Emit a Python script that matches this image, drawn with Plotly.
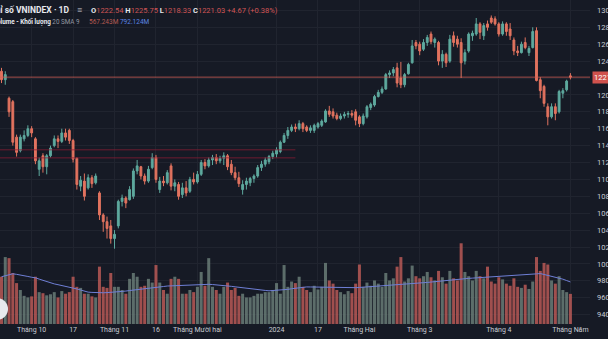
import plotly.graph_objects as go

# ---------------- data ----------------
opens = [1228,1218,1196,1192,1150,1134,1148,1152,1160,1148,1112,1128,1115,1128,1140,1148,1145,1155,1158,1146,
         1125,1092,1098,1090,1102,1096,1084,1058,1050,1045,1030,1045,1074,1078,1076,1080,1110,1115,1104,1098,
         1114,1126,1088,1098,1096,1116,1092,1094,1082,1090,1086,1100,1097,1106,1120,1116,1123,1126,1122,1125,
         1128,1118,1108,1102,1088,1094,1096,1101,1104,1114,1118,1121,1127,1130,1133,1144,1152,1158,1162,1160,
         1166,1162,1158,1158,1162,1164,1168,1181,1180,1176,1172,1175,1177,1178,1180,1174,1166,1174,1185,1188,
         1198,1203,1207,1224,1226,1232,1220,1212,1225,1238,1262,1260,1254,1262,1272,1262,1262,1240,1248,1240,
         1270,1266,1262,1240,1252,1270,1272,1284,1270,1284,1291,1290,1284,1272,1284,1278,1265,1252,1250,1262,
         1250,1256,1276,1218,1210,1186,1174,1186,1180,1202,1206,1222.54]
highs = [1232,1228,1198,1194,1153,1153,1158,1164,1163,1150,1126,1131,1130,1140,1152,1152,1160,1160,1160,1148,
         1126,1104,1107,1106,1105,1107,1086,1060,1056,1052,1040,1076,1082,1080,1092,1113,1123,1116,1107,1116,
         1131,1129,1103,1104,1111,1119,1100,1097,1096,1098,1103,1108,1110,1123,1124,1126,1129,1130,1128,1132,
         1130,1123,1115,1109,1099,1102,1103,1106,1117,1122,1126,1129,1134,1138,1146,1155,1162,1165,1166,1170,
         1168,1164,1164,1166,1168,1171,1183,1187,1184,1179,1178,1180,1181,1182,1183,1176,1178,1188,1191,1200,
         1206,1210,1226,1229,1233,1238,1239,1226,1238,1265,1265,1263,1266,1271,1275,1268,1264,1253,1250,1271,
         1275,1270,1267,1254,1274,1276,1291,1286,1285,1288,1294,1293,1286,1287,1286,1285,1268,1258,1263,1268,
         1258,1280,1280,1221,1212,1190,1190,1190,1206,1208,1218,1225.75]
lows = [1214,1212,1174,1140,1127,1132,1145,1150,1150,1118,1104,1108,1106,1126,1138,1137,1143,1146,1142,1120,
        1088,1086,1075,1088,1090,1094,1052,1038,1030,1024,1018,1042,1068,1066,1075,1077,1106,1100,1094,1096,
        1112,1096,1084,1092,1094,1087,1086,1076,1078,1080,1084,1094,1095,1104,1112,1114,1117,1118,1119,1117,
        1111,1105,1099,1091,1082,1088,1092,1096,1102,1110,1115,1118,1124,1126,1131,1143,1148,1156,1156,1158,
        1156,1156,1155,1155,1160,1162,1167,1174,1172,1170,1170,1172,1173,1173,1164,1162,1164,1172,1182,1186,
        1197,1201,1206,1220,1222,1209,1208,1209,1224,1237,1254,1247,1252,1258,1260,1256,1235,1232,1233,1238,
        1257,1256,1220,1236,1250,1264,1270,1266,1265,1276,1284,1282,1269,1270,1270,1265,1247,1246,1249,1254,
        1246,1255,1216,1196,1186,1164,1172,1170,1178,1196,1204,1218.33]
closes = [1218,1224,1180,1144,1132,1150,1152,1160,1155,1122,1122,1115,1128,1137,1148,1145,1155,1150,1146,1124,
          1094,1099,1080,1102,1095,1104,1058,1050,1042,1030,1035,1074,1078,1072,1088,1110,1116,1104,1098,1112,
          1126,1100,1098,1096,1108,1092,1096,1080,1090,1084,1100,1097,1106,1120,1116,1123,1126,1122,1125,1128,
          1115,1108,1102,1095,1094,1098,1101,1104,1114,1118,1123,1127,1131,1135,1144,1152,1158,1162,1160,1166,
          1160,1158,1161,1164,1166,1169,1181,1177,1175,1172,1175,1177,1178,1176,1170,1166,1175,1186,1189,1198,
          1203,1207,1224,1226,1230,1214,1212,1224,1236,1258,1258,1252,1262,1268,1263,1266,1240,1248,1238,1266,
          1262,1260,1238,1250,1272,1273,1284,1274,1282,1280,1286,1284,1272,1284,1275,1270,1252,1250,1260,1256,
          1255,1275,1217,1205,1190,1174,1186,1178,1204,1205,1216.36,1221.03]
# volume in millions of shares
volumes = [890,1260,1240,960,770,640,530,500,520,890,600,580,540,560,600,500,620,570,600,890,
           700,680,570,570,520,500,1080,700,680,960,700,700,640,570,850,960,890,700,720,850,
           780,1110,780,640,570,850,890,850,570,570,640,600,700,980,720,1240,700,640,570,700,
           780,640,680,530,570,500,500,530,570,570,600,600,640,770,570,1110,700,800,770,890,
           700,640,600,720,650,700,1150,820,760,640,600,560,620,580,760,1120,700,780,720,820,
           760,700,960,820,860,1080,1260,800,860,1100,900,860,900,980,880,820,1000,880,760,1000,
           860,820,1520,980,900,820,1000,900,860,1080,800,760,880,840,760,720,860,700,680,740,
           660,800,1260,1000,1150,1120,820,760,900,640,600,567.243]
# 20 SMA 9 line of the volume pane
vol_ma = [890,910,930,945,935,925,910,895,880,870,845,820,795,770,755,740,725,712,700,680,
          660,640,620,600,595,590,585,588,591,594,597,600,610,620,630,640,648,656,664,672,
          680,689,698,706,715,718,722,726,730,733,735,742,748,755,751,747,743,739,735,726,
          718,709,700,690,680,670,660,653,646,639,632,625,629,633,637,640,652,664,676,688,
          700,698,697,695,694,692,691,689,688,686,685,683,682,680,684,688,693,697,701,705,
          710,714,718,722,727,731,735,742,749,756,762,769,776,783,790,798,805,813,820,828,
          835,843,850,855,859,864,868,873,877,882,886,891,895,900,904,908,912,916,920,926,
          932,938,944,950,934,918,902,886,870,844,818,792.124]

tick_idx = [8, 19, 30, 41, 52, 73, 84, 95, 111, 132, 151]
tick_text = ["Tháng 10", "17", "Tháng 11", "16", "Tháng Mười hai", "2024", "17",
             "Tháng Hai", "Tháng 3", "Tháng 4", "Tháng Năm"]
price_ticks = [940, 960, 980, 1000, 1020, 1040, 1060, 1080, 1100, 1120, 1140, 1160,
               1180, 1200, 1220, 1240, 1260, 1280, 1300]
last_price = 1221.03

# ---------------- styling ----------------
BG = "#161a25"
GRID = "#20242f"
UP = "#5ea99e"
DOWN = "#e2735f"
VOL_UP = "rgba(110,130,124,0.80)"
VOL_DOWN = "rgba(190,92,88,0.82)"
TXT = "#c9ccd4"
FONT = "Roboto"

n = len(closes)
xs = list(range(n))

fig = go.Figure()

vol_colors = [VOL_UP if c >= o else VOL_DOWN for o, c in zip(opens, closes)]
fig.add_trace(go.Bar(x=xs, y=volumes, marker=dict(color=vol_colors, line=dict(width=0)),
                     yaxis="y2", showlegend=False, hoverinfo="skip"))
fig.add_trace(go.Scatter(x=xs, y=vol_ma, mode="lines", line=dict(color="#6f7fd6", width=1),
                         yaxis="y2", showlegend=False, hoverinfo="skip"))

fig.add_trace(go.Candlestick(
    x=xs, open=opens, high=highs, low=lows, close=closes,
    increasing=dict(line=dict(color=UP, width=1), fillcolor=UP),
    decreasing=dict(line=dict(color=DOWN, width=1), fillcolor=DOWN),
    whiskerwidth=0, showlegend=False, hoverinfo="skip"))

# the 1220 tick label sits under the last-price badge, so it is left blank
price_text = ["" if abs(v - last_price) < 10 else f"{v:.2f}" for v in price_ticks]

fig.update_layout(
    width=608, height=339,
    margin=dict(l=0, r=18, t=0, b=15, autoexpand=False),
    paper_bgcolor=BG, plot_bgcolor=BG,
    font=dict(family=FONT, size=7, color=TXT),
    bargap=0.2,
    showlegend=False,
    xaxis=dict(range=[-0.4, 156.2], tickmode="array", tickvals=tick_idx, ticktext=tick_text,
               showgrid=True, gridcolor=GRID, gridwidth=1, zeroline=False, automargin=False,
               rangeslider=dict(visible=False), ticks="", showline=False,
               tickfont=dict(size=7, color=TXT, family=FONT)),
    yaxis=dict(range=[928.9, 1312.3], side="right", tickmode="array", tickvals=price_ticks,
               ticktext=price_text, showgrid=True, gridcolor=GRID,
               zeroline=False, ticks="", showline=False, ticklabelstandoff=6, automargin=False,
               tickfont=dict(size=7.5, color=TXT, family=FONT)),
    yaxis2=dict(range=[0, 6100], overlaying="y", side="left", visible=False, showgrid=False,
                automargin=False),
)

# last price line + label
fig.add_shape(type="line", xref="paper", x0=0, x1=1, yref="y", y0=last_price, y1=last_price,
              line=dict(color="rgba(214,96,88,0.75)", width=1))
fig.add_annotation(xref="paper", x=1, xanchor="left", yref="y", y=last_price, yanchor="middle",
                   text=f"{last_price:.2f}", showarrow=False, bgcolor="#d0524d",
                   font=dict(size=7.5, color="#ffffff", family=FONT), borderpad=1, xshift=2)

# faint red horizontal artefact lines at left
for lv in (1135, 1125.5):
    fig.add_shape(type="line", xref="x", x0=-0.4, x1=78, yref="y", y0=lv, y1=lv,
                  line=dict(color="rgba(140,28,52,0.75)", width=1))

# header texts
R = "#d05555"
fig.add_annotation(xref="paper", x=0, xanchor="left", xshift=-12, yref="paper", y=0.969,
                   yanchor="middle", showarrow=False,
                   text="<b>Chỉ số VNINDEX · 1D</b>", font=dict(size=8.5, color="#e6e8ee", family=FONT))
fig.add_annotation(xref="paper", x=75 / 590, xanchor="left", yref="paper", y=0.969,
                   yanchor="middle", showarrow=False, text="≡",
                   font=dict(size=9, color="#c9ccd4", family=FONT))
ohlc = (f"<b>O</b><span style='color:{R}'>{opens[-1]:.2f}</span> "
        f"<b>H</b><span style='color:{R}'>{highs[-1]:.2f}</span> "
        f"<b>L</b><span style='color:{R}'>{lows[-1]:.2f}</span> "
        f"<b>C</b><span style='color:{R}'>{closes[-1]:.2f} "
        f"+{closes[-1]-closes[-2]:.2f} (+{(closes[-1]-closes[-2])/closes[-2]*100:.2f}%)</span>")
fig.add_annotation(xref="paper", x=89 / 590, xanchor="left", yref="paper", y=0.969,
                   yanchor="middle", showarrow=False, text=ohlc,
                   font=dict(size=7.5, color="#e6e8ee", family=FONT))
fig.add_annotation(xref="paper", x=0, xanchor="left", xshift=-9, yref="paper", y=0.932,
                   yanchor="middle", showarrow=False,
                   text="<b>Volume - Khối lượng</b> <span style='color:#9598a1'>20 SMA 9</span>",
                   font=dict(size=6.3, color="#e6e8ee", family=FONT))
fig.add_annotation(xref="paper", x=87 / 590, xanchor="left", yref="paper", y=0.932,
                   yanchor="middle", showarrow=False,
                   text=f"<span style='color:#b85a52'>{volumes[-1]:.3f}M</span> "
                        f"<span style='color:#5c86e6'>{vol_ma[-1]:.3f}M</span>",
                   font=dict(size=6.5, family=FONT))

# TradingView logo badge (partially off-canvas)
fig.add_shape(type="circle", xref="paper", yref="paper",
              x0=-14 / 590, x1=8 / 590, y0=(324 - 320) / 324, y1=(324 - 298) / 324,
              fillcolor="#e8e9ee", line=dict(width=0))

fig.write_html("out.html")
